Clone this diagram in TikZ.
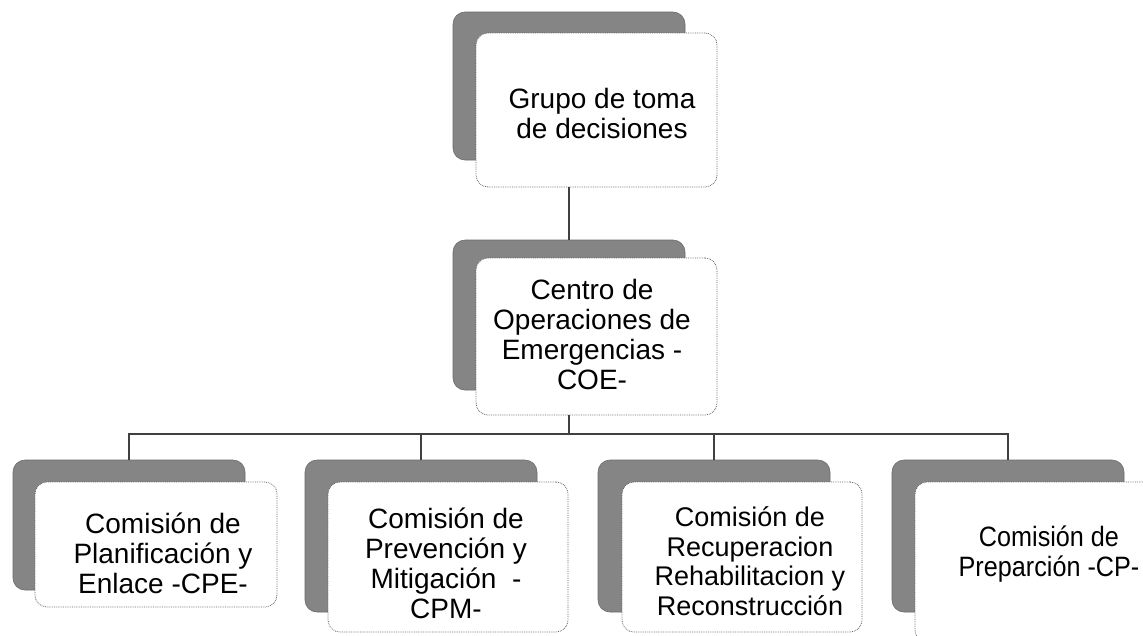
\documentclass[tikz,border=0pt]{standalone}
\usepackage{fontspec}
\setmainfont{Liberation Sans}
\newfontfamily\narrowfont[FakeStretch=0.9]{Liberation Sans}
\begin{document}
\begin{tikzpicture}[x=1pt,y=-1pt,
  shadowbox/.style={fill=black!48, draw=black!58, line width=0.6pt, rounded corners=12pt, inner sep=0pt},
  frontbox/.style={fill=white, draw=black!60, densely dotted, line width=0.8pt, rounded corners=12pt, inner sep=0pt},
  lbl/.style={align=center, inner sep=0pt, font=\fontsize{28}{30}\selectfont},
  lbls/.style={align=center, inner sep=0pt, font=\fontsize{27}{29.5}\selectfont},
  conn/.style={draw=black!75, line width=2.2pt}]
\useasboundingbox (0,0) rectangle (1143,635);
\clip (0,0) rectangle (1143,635);
\fill[white] (0,0) rectangle (1143,635);
% top
\node[shadowbox, minimum width=232pt, minimum height=148pt] (topS) at (569,86) {};
\node[frontbox, minimum width=241pt, minimum height=154pt] (topF) at (596.5,110) {};
\node[lbl] (topT) at (602,113) {Grupo de toma\\de decisiones};
% COE
\node[shadowbox, minimum width=232pt, minimum height=150pt] (coeS) at (569,315) {};
\node[frontbox, minimum width=241pt, minimum height=157pt] (coeF) at (596.5,336.5) {};
\node[lbl] (coeT) at (592,334) {Centro de\\Operaciones de\\Emergencias -\\COE-};
% bottom row
\node[shadowbox, minimum width=232pt, minimum height=130pt] (b1S) at (129,525) {};
\node[frontbox, minimum width=242pt, minimum height=125pt] (b1F) at (156,544.5) {};
\node[lbl] (b1T) at (163,553) {Comisión de\\Planificación y\\Enlace -CPE-};

\node[shadowbox, minimum width=232pt, minimum height=152pt] (b2S) at (421,536) {};
\node[frontbox, minimum width=240pt, minimum height=150pt] (b2F) at (448,557) {};
\node[lbl] (b2T) at (446,563) {Comisión de\\Prevención y\\Mitigación \ -\\CPM-};

\node[shadowbox, minimum width=232pt, minimum height=152pt] (b3S) at (714,536) {};
\node[frontbox, minimum width=240pt, minimum height=150pt] (b3F) at (742,557) {};
\node[lbls] (b3T) at (750,561) {Comisión de\\Recuperacion\\Rehabilitacion y\\Reconstrucción};

\node[shadowbox, minimum width=232pt, minimum height=152pt] (b4S) at (1008,536) {};
\node[frontbox, minimum width=242pt, minimum height=160pt] (b4F) at (1036,562) {};
\node[lbl, font=\narrowfont\fontsize{28}{30}\selectfont] (b4T) at (1049,554) {Comisión de\\Preparción -CP-};
% connectors
\coordinate (bus) at (569,434);
\draw[conn] (topS.south |- topF.south) -- (coeS.north);
\draw[conn] (coeS.south |- coeF.south) -- (bus);
\draw[conn] (b1S.north) -- (b1S.north |- bus) -- (b4S.north |- bus) -- (b4S.north);
\draw[conn] (b2S.north) -- (b2S.north |- bus);
\draw[conn] (b3S.north) -- (b3S.north |- bus);
\end{tikzpicture}
\end{document}
